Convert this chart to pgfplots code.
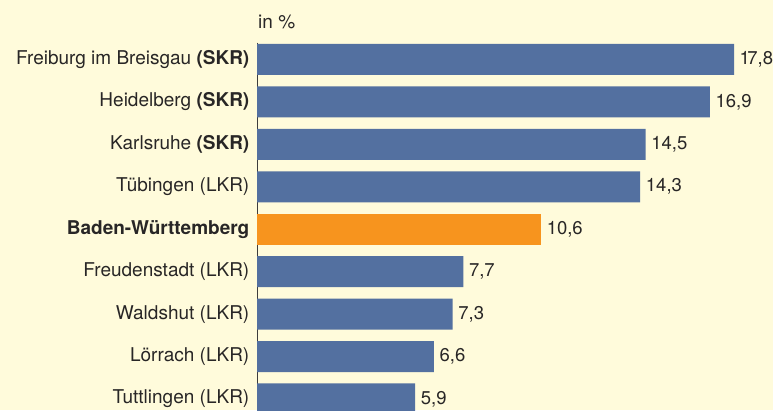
\documentclass[border=0pt]{standalone}
\usepackage{pgfplots}
\pgfplotsset{compat=1.18}
\usepackage{fontspec}
\setmainfont{TeX Gyre Heros}
\definecolor{bg}{RGB}{255,251,219}
\definecolor{barblue}{RGB}{83,112,160}
\definecolor{barorange}{RGB}{247,148,30}
\definecolor{txt}{RGB}{40,38,38}
\begin{document}
\fontsize{19pt}{22pt}\selectfont
\begin{tikzpicture}
\fill[bg] (0pt,0pt) rectangle (773pt,410pt);
\begin{axis}[
  at={(257pt,0pt)}, anchor=south west,
  scale only axis, width=516pt, height=367.5pt,
  xmin=0, xmax=19.254, ymin=0.6, ymax=9.26,
  y dir=reverse,
  axis y line*=left, axis x line=none,
  y axis line style={line width=1pt, color=txt!90, -},
  xbar, bar width=31pt,
  ytick={1,...,9}, major tick length=0pt,
  yticklabels={{Freiburg im Breisgau \textbf{(SKR)}},{Heidelberg \textbf{(SKR)}},{Karlsruhe \textbf{(SKR)}},{Tübingen (LKR)},{\textbf{Baden-Württemberg}},{Freudenstadt (LKR)},{Waldshut (LKR)},{Lörrach (LKR)},{Tuttlingen (LKR)}},
  yticklabel style={inner sep=0pt, xshift=-7.5pt, text=txt, font=\fontsize{19pt}{22pt}\selectfont},
  point meta=explicit symbolic,
  nodes near coords,
  nodes near coords style={anchor=west, inner sep=0pt, xshift=5.5pt, text=txt, font=\fontsize{18.5pt}{22pt}\selectfont},
  clip=false,
]
\addplot[fill=barblue, draw=none, bar shift=0pt] coordinates {
 (17.8,1) [1\kern-0.14em7,8] (16.9,2) [16,9] (14.5,3) [14,5] (14.3,4) [14,3]
 (7.7,6) [7,7] (7.3,7) [7,3] (6.6,8) [6,6] (5.9,9) [5,9]};
\addplot[fill=barorange, draw=none, bar shift=0pt] coordinates {(10.6,5) [10,6]};
\end{axis}
\node[anchor=base west, inner sep=0pt, text=txt] at (258pt,381pt) {in \%};
\pgfresetboundingbox
\path[use as bounding box] (0pt,0pt) rectangle (773pt,410pt);
\end{tikzpicture}
\end{document}
